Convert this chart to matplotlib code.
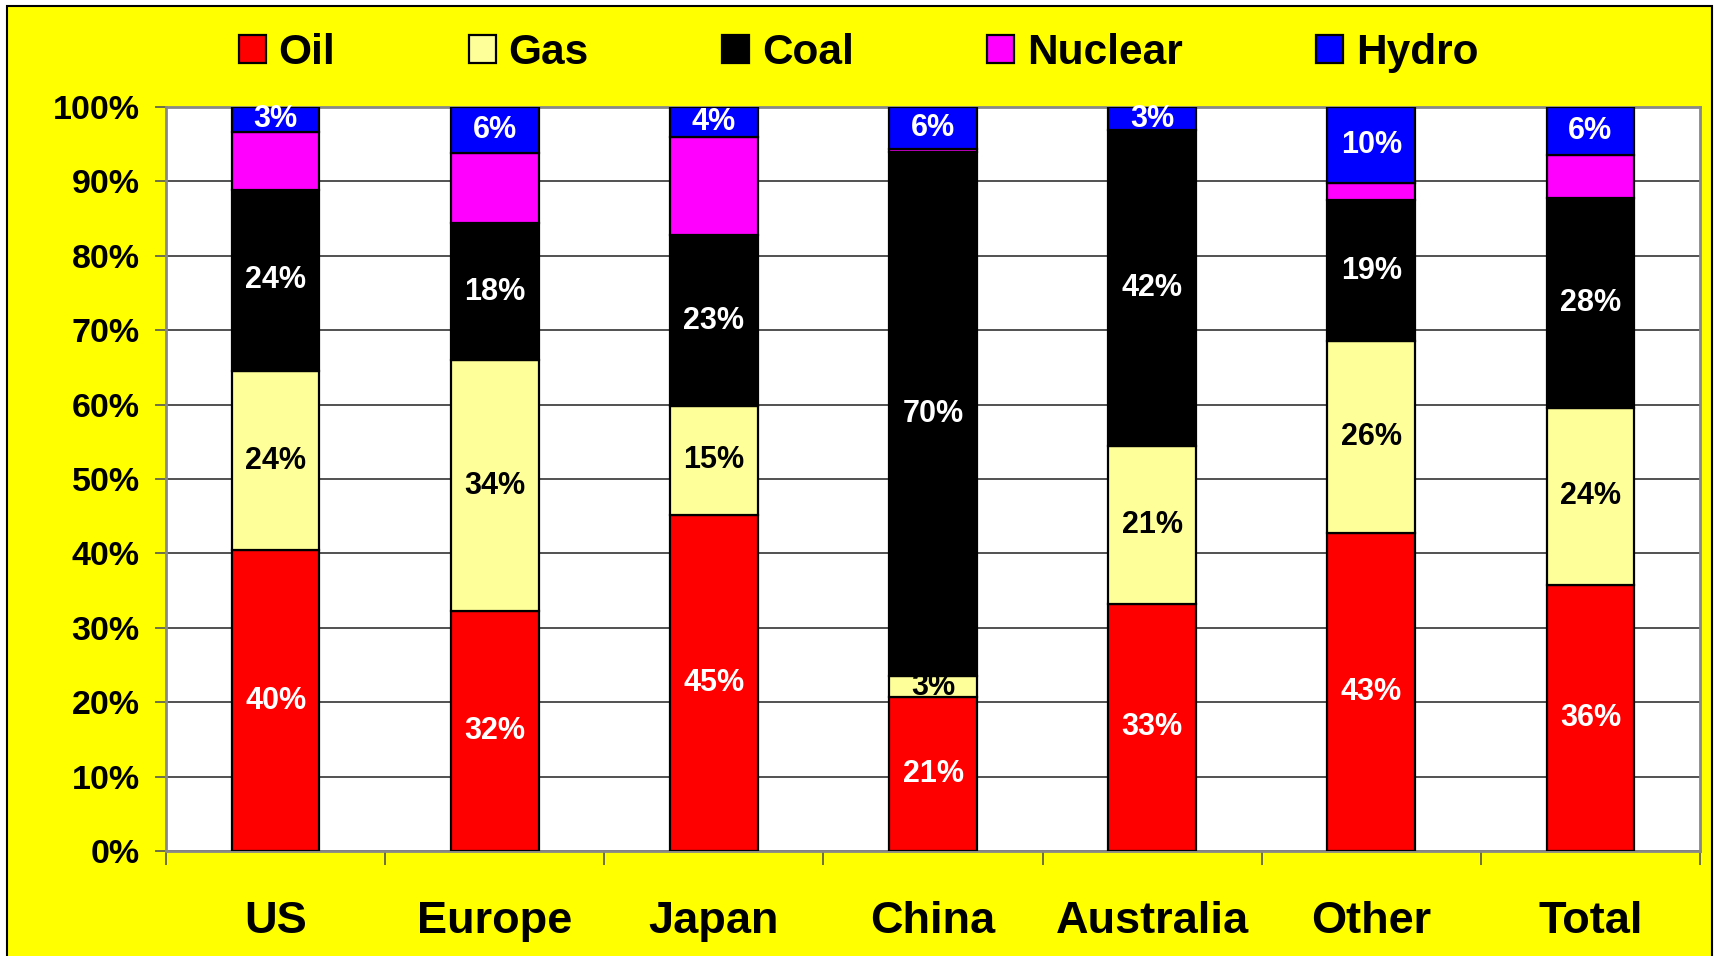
import numpy as np
import matplotlib
matplotlib.use("Agg")
from matplotlib import pyplot as plt
from matplotlib.patches import Patch, Rectangle

plt.rcParams['font.family'] = ['Liberation Sans', 'DejaVu Sans']
plt.rcParams['font.weight'] = 'bold'

# datos (% de cada fuente por region)
regiones = ["US", "Europe", "Japan", "China", "Australia", "Other", "Total"]
oil = [40.4, 32.2, 45.2, 20.7, 33.2, 42.7, 35.8]
gas = [24.1, 33.8, 14.6, 2.8, 21.3, 25.8, 23.7]
coal = [24.4, 18.4, 23.0, 70.4, 42.4, 19.0, 28.3]
nuclear = [7.8, 9.4, 13.2, 0.5, 0.0, 2.3, 5.8]
hydro = [3.3, 6.2, 4.0, 5.6, 3.1, 10.2, 6.4]

series = [("Oil", oil, "#FF0000", "white"),
          ("Gas", gas, "#FFFF99", "black"),
          ("Coal", coal, "#000000", "white"),
          ("Nuclear", nuclear, "#FF00FF", None),
          ("Hydro", hydro, "#0000FF", "white")]

fig = plt.figure(figsize=(17.17, 9.56), dpi=100, facecolor="white")
# fondo amarillo con borde
fondo = Rectangle((7/1717, -0.01), (1712-7)/1717, 1.01 - 6/956,
                  transform=fig.transFigure, facecolor="#FFFF00",
                  edgecolor="black", linewidth=1.5, zorder=-10)
fig.add_artist(fondo)

ax = fig.add_axes([166/1717, 1-851/956, (1700-166)/1717, (851-107)/956])
ax.set_facecolor("white")

x = np.arange(len(regiones))
abajo = np.zeros(len(regiones))
for nombre, vals, color, color_txt in series:
    vals = np.array(vals)
    ax.bar(x, vals, 0.4, bottom=abajo, color=color, edgecolor="black",
           linewidth=1.6, label=nombre, zorder=3)
    if color_txt is not None:
        for xi, b, v in zip(x, abajo, vals):
            ax.text(xi, b + v/2, f"{v:.0f}%", ha="center", va="center",
                    color=color_txt, fontsize=22, fontweight="bold", zorder=4)
    abajo = abajo + vals

ax.set_xlim(-0.5, len(regiones) - 0.5)
ax.set_ylim(0, 100)
ax.set_yticks(np.arange(0, 101, 10))
ax.set_yticklabels([f"{v}%" for v in range(0, 101, 10)])
ax.tick_params(axis="y", direction="out", length=8, width=1.2, color="#555555",
               pad=11, labelsize=24.5)
ax.set_xticks(x)
ax.set_xticklabels(regiones)
ax.tick_params(axis="x", which="major", length=0, pad=36, labelsize=32.5)
ax.set_xticks(np.arange(-0.5, len(regiones), 1), minor=True)
ax.tick_params(axis="x", which="minor", direction="out", length=10, width=1.2,
               color="#555555")
for lab in ax.get_xticklabels() + ax.get_yticklabels():
    lab.set_fontweight("bold")

ax.grid(axis="y", color="#222222", linewidth=1.1, zorder=1)
for s in ax.spines.values():
    s.set_color("#888888")
    s.set_linewidth(2)

handles = [Patch(facecolor=c, edgecolor="black", linewidth=1.6, label=n)
           for n, _, c, _ in series]
fig.legend(handles=handles, loc="center", bbox_to_anchor=(0.5, 0.945), ncol=5,
           frameon=False, prop={"size": 30.5, "weight": "bold"},
           handlelength=0.64, handleheight=0.64, handletextpad=0.3,
           columnspacing=3.15)

fig.savefig("out.png", dpi=100, facecolor=fig.get_facecolor())
